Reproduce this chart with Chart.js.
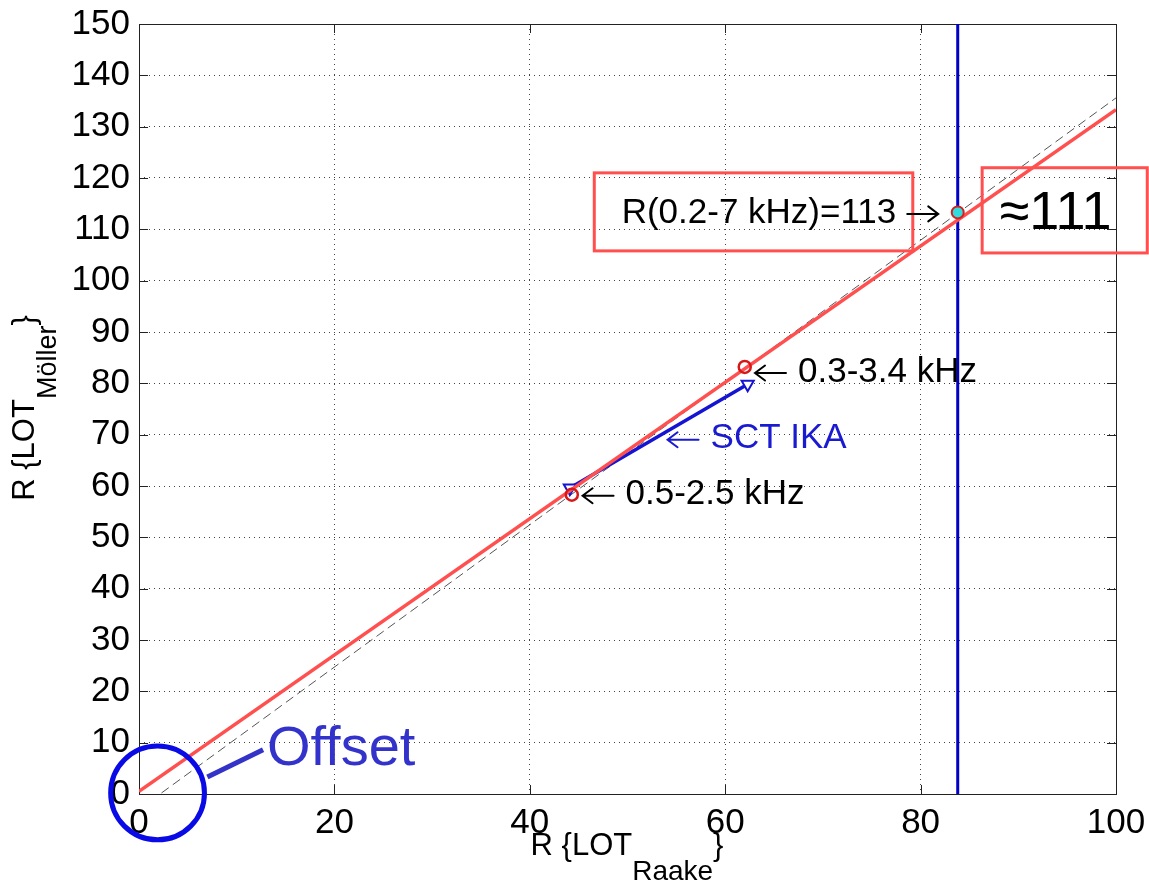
<!DOCTYPE html>
<html>
<head>
<meta charset="utf-8">
<script src="https://cdn.jsdelivr.net/npm/chart.js@4.4.1/dist/chart.umd.min.js"></script>
<style>
  html, body { margin: 0; padding: 0; background: #fff; }
  canvas { display: block; }
</style>
</head>
<body>
<canvas id="chart" width="1149" height="892"></canvas>
<script>
// Tick values
const xTicks = [0, 20, 40, 60, 80, 100];
const yTicks = [0, 10, 20, 30, 40, 50, 60, 70, 80, 90, 100, 110, 120, 130, 140, 150];

// Linear mapping (red) and reference curve (dashed)
const fitX = [0, 100];
const fitY = [0.5, 133.3];
const refX = [2.3, 100];
const refY = [0.2, 135.6];

// Narrowband / telephone band points
const bandX = [44.3, 62.0];
const bandY = [58.3, 83.2];

// SCT IKA shift
const sctX = [44.1, 62.3];
const sctY = [59.6, 79.8];

// Wideband point and its vertical marker
const wbX = [83.8];
const wbY = [113.3];
const wbLineY = [0, 150];

const FONT = '"Liberation Sans", Arial, Helvetica, sans-serif';
const RED = '#ff4f4f';
const BLUE = '#0000c8';

function pts(xs, ys) {
  return xs.map((x, i) => ({ x: x, y: ys[i] }));
}

// Text notes, in data coordinates (left edge of the whole note, vertical centre)
// arrow: 'left' draws an arrow before the text, 'right' after it
const notes = [
  { text: '0.3-3.4 kHz', x: 63.05, y: 82.2, color: '#000', arrow: 'left' },
  { text: 'SCT IKA', x: 54.1, y: 69.2, color: '#1a1ad0', arrow: 'left' },
  { text: '0.5-2.5 kHz', x: 45.4, y: 58.3, color: '#000', arrow: 'left' },
  { text: 'R(0.2-7 kHz)=113', x: 49.4, y: 113.2, color: '#000', arrow: 'right' }
];

// Red boxes [x1, y1, x2, y2] in data coordinates
const boxes = [
  [46.6, 121.0, 79.2, 105.8],
  [86.3, 122.0, 103.2, 105.4]
];

function drawArrow(ctx, x, y, dir, color) {
  const len = 31, head = 10;
  const tip = dir === 'left' ? x : x + len;
  const tail = dir === 'left' ? x + len : x;
  const s = dir === 'left' ? 1 : -1;
  ctx.save();
  ctx.strokeStyle = color;
  ctx.lineWidth = 2;
  ctx.lineCap = 'round';
  ctx.beginPath();
  ctx.moveTo(tail, y); ctx.lineTo(tip, y);
  ctx.moveTo(tip + s * head, y - head * 0.75); ctx.lineTo(tip, y); ctx.lineTo(tip + s * head, y + head * 0.75);
  ctx.stroke();
  ctx.restore();
}

const frame = {
  id: 'frame',
  beforeDatasetsDraw(chart) {
    const { ctx, chartArea: a, scales } = chart;
    ctx.save();
    ctx.strokeStyle = '#222';
    ctx.lineWidth = 1;
    ctx.strokeRect(a.left + 0.5, a.top + 0.5, a.right - a.left, a.bottom - a.top);
    ctx.beginPath();
    const len = 9;
    xTicks.forEach(v => {
      const px = Math.round(scales.x.getPixelForValue(v)) + 0.5;
      ctx.moveTo(px, a.bottom); ctx.lineTo(px, a.bottom - len);
      ctx.moveTo(px, a.top); ctx.lineTo(px, a.top + len);
    });
    yTicks.forEach(v => {
      const py = Math.round(scales.y.getPixelForValue(v)) + 0.5;
      ctx.moveTo(a.left, py); ctx.lineTo(a.left + len, py);
      ctx.moveTo(a.right, py); ctx.lineTo(a.right - len, py);
    });
    ctx.stroke();
    ctx.restore();
  },
  afterDraw(chart) {
    const { ctx, chartArea: a, scales } = chart;
    const sx = scales.x, sy = scales.y;
    ctx.save();

    // red boxes
    ctx.strokeStyle = RED;
    ctx.lineWidth = 3;
    boxes.forEach(b => {
      const x1 = sx.getPixelForValue(b[0]), y1 = sy.getPixelForValue(b[1]);
      const x2 = sx.getPixelForValue(b[2]), y2 = sy.getPixelForValue(b[3]);
      ctx.strokeRect(x1, y1, x2 - x1, y2 - y1);
    });

    // text notes with arrows
    ctx.textBaseline = 'middle';
    ctx.textAlign = 'left';
    ctx.font = '35px ' + FONT;
    notes.forEach(n => {
      const px = sx.getPixelForValue(n.x), py = sy.getPixelForValue(n.y);
      ctx.fillStyle = n.color;
      if (n.arrow === 'left') {
        drawArrow(ctx, px, py + 1, 'left', n.color);
        ctx.fillText(n.text, px + 43, py);
      } else {
        ctx.fillText(n.text, px, py);
        const w = ctx.measureText(n.text).width;
        drawArrow(ctx, px + w + 11, py + 1, 'right', n.color);
      }
    });

    // approximate value in the right box
    ctx.fillStyle = '#000';
    ctx.font = '54px ' + FONT;
    ctx.fillText('\u2248111', sx.getPixelForValue(88.1), sy.getPixelForValue(113.0));

    // offset circle, pointer and label
    const cx = sx.getPixelForValue(1.9), cy = sy.getPixelForValue(0.2);
    const r = sx.getPixelForValue(4.8) - sx.getPixelForValue(0);
    ctx.strokeStyle = '#0a0ae6';
    ctx.lineWidth = 5;
    ctx.beginPath();
    ctx.arc(cx, cy, r, 0, Math.PI * 2);
    ctx.stroke();
    ctx.strokeStyle = '#3333c8';
    ctx.beginPath();
    ctx.moveTo(sx.getPixelForValue(7.0), sy.getPixelForValue(3.3));
    ctx.lineTo(sx.getPixelForValue(12.7), sy.getPixelForValue(8.6));
    ctx.stroke();
    ctx.fillStyle = '#3333cc';
    ctx.font = '56px ' + FONT;
    ctx.textBaseline = 'alphabetic';
    ctx.fillText('Offset', sx.getPixelForValue(13.1), sy.getPixelForValue(5.65));

    // axis titles with subscripts
    ctx.fillStyle = '#000';
    const xParts = [['R {LOT', 31, 0], ['Raake', 28, 25], ['}', 31, 0]];
    drawParts(ctx, xParts, 627, 855);
    ctx.save();
    ctx.translate(34, 408);
    ctx.rotate(-Math.PI / 2);
    const yParts = [['R {LOT', 31, 0], ['M\u00f6ller', 27, 22], ['}', 31, 0]];
    drawParts(ctx, yParts, 0, 0);
    ctx.restore();

    ctx.restore();
  }
};

function drawParts(ctx, parts, centerX, baseY) {
  let total = 0;
  parts.forEach(p => {
    ctx.font = p[1] + 'px ' + FONT;
    total += ctx.measureText(p[0]).width;
  });
  let x = centerX - total / 2;
  ctx.textAlign = 'left';
  ctx.textBaseline = 'alphabetic';
  parts.forEach(p => {
    ctx.font = p[1] + 'px ' + FONT;
    ctx.fillText(p[0], x, baseY + p[2]);
    x += ctx.measureText(p[0]).width;
  });
}

new Chart(document.getElementById('chart'), {
  type: 'scatter',
  data: {
    datasets: [
      {
        label: 'wideband',
        data: pts(wbX, wbY),
        pointRadius: 6,
        pointBorderWidth: 2,
        pointBorderColor: '#d42020',
        pointBackgroundColor: '#30dcdc',
        order: 0
      },
      {
        label: 'bands',
        data: pts(bandX, bandY),
        pointRadius: 6,
        pointBorderWidth: 2.5,
        pointBorderColor: '#d81818',
        pointBackgroundColor: 'rgba(255,255,255,0)',
        order: 1
      },
      {
        label: 'fit',
        data: pts(fitX, fitY),
        showLine: true,
        borderColor: RED,
        borderWidth: 3.5,
        pointRadius: 0,
        order: 2
      },
      {
        label: 'SCT IKA',
        data: pts(sctX, sctY),
        showLine: true,
        borderColor: '#1414d2',
        borderWidth: 3.5,
        pointStyle: 'triangle',
        rotation: 180,
        pointRadius: 7,
        pointBorderWidth: 2,
        pointBorderColor: '#1414d2',
        pointBackgroundColor: '#ffffff',
        order: 3
      },
      {
        label: 'wb line',
        data: pts([wbX[0], wbX[0]], wbLineY),
        showLine: true,
        borderColor: BLUE,
        borderWidth: 3,
        pointRadius: 0,
        order: 4
      },
      {
        label: 'reference',
        data: pts(refX, refY),
        showLine: true,
        borderColor: '#555',
        borderWidth: 1,
        borderDash: [9, 5],
        pointRadius: 0,
        order: 5
      }
    ]
  },
  options: {
    responsive: false,
    animation: false,
    layout: { padding: { left: 0, right: 33, top: 24, bottom: 0 } },
    plugins: { legend: { display: false }, tooltip: { enabled: false } },
    scales: {
      x: {
        type: 'linear',
        min: 0,
        max: 100,
        afterBuildTicks: s => { s.ticks = xTicks.map(v => ({ value: v })); },
        afterFit: s => { s.height = 98; s.paddingLeft = 0; s.paddingRight = 0; },
        border: { display: false, dash: [1, 4] },
        grid: { color: '#444', lineWidth: 1, drawTicks: false },
        ticks: { color: '#000', padding: 8, font: { family: FONT, size: 35 } }
      },
      y: {
        type: 'linear',
        min: 0,
        max: 150,
        afterBuildTicks: s => { s.ticks = yTicks.map(v => ({ value: v })); },
        afterFit: s => { s.width = 139; s.paddingTop = 0; s.paddingBottom = 0; },
        border: { display: false, dash: [1, 4] },
        grid: { color: '#444', lineWidth: 1, drawTicks: false },
        ticks: { color: '#000', padding: 9, font: { family: FONT, size: 35 } }
      }
    }
  },
  plugins: [frame]
});
</script>
</body>
</html>
